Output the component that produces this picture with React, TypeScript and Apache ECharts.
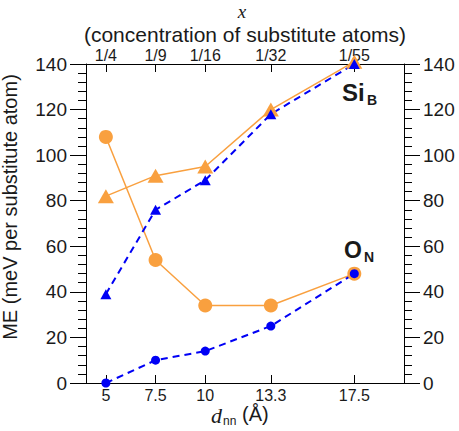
import React, { useEffect, useRef } from "react";
import * as echarts from "echarts";

// d_nn (Å) positions and matching concentrations
const dnn = [5, 7.5, 10, 13.3, 17.5];
const concLabels = ["1/4", "1/9", "1/16", "1/32", "1/55"];

// ME values (meV per substitute atom)
const oOrange = [108, 54, 34, 34, 48];
const siOrange = [82, 91, 95, 120, 141];
const siBlue = [39, 76, 89, 118, 140];
const oBlue = [0, 10, 14, 25, 48];

const ORANGE = "#F9A03F";
const BLUE = "#0000F5";
const FONT = "Liberation Sans";

const pts = (vals: number[]) => dnn.map((x, i) => [x, vals[i]]);

export default function App() {
  const ref = useRef<HTMLDivElement>(null);
  useEffect(() => {
    if (!ref.current) return;
    const chart = echarts.init(ref.current, null, { renderer: "svg" });
    const yAxisCommon = {
      type: "value",
      min: 0,
      max: 140,
      interval: 20,
      axisLine: { show: true, lineStyle: { color: "#000", width: 1 } },
      axisTick: { show: true, inside: false, length: 16, lineStyle: { color: "#000" } },
      minorTick: { show: true, splitNumber: 5, length: 8, lineStyle: { color: "#000" } },
      splitLine: { show: false },
      minorSplitLine: { show: false },
      axisLabel: { fontSize: 19, color: "#1a1a1a", fontFamily: FONT, margin: 19 },
    };
    const xAxisCommon = {
      type: "value",
      min: 4,
      max: 20,
      axisLine: { show: true, onZero: false, lineStyle: { color: "#000", width: 1 } },
      axisTick: { show: true, inside: true, length: 8, customValues: dnn, lineStyle: { color: "#000" } },
      splitLine: { show: false },
    };
    chart.setOption({
      animation: false,
      grid: { left: 86, right: 55, top: 64, bottom: 48, containLabel: false },
      xAxis: [
        {
          ...xAxisCommon,
          position: "bottom",
          axisLabel: {
            customValues: dnn,
            fontSize: 16,
            color: "#1a1a1a",
            fontFamily: FONT,
            margin: 4,
            formatter: (v: number) => String(v),
          },
        },
        {
          ...xAxisCommon,
          position: "top",
          axisLabel: {
            customValues: dnn,
            fontSize: 16,
            color: "#1a1a1a",
            fontFamily: FONT,
            margin: 1,
            formatter: (v: number) => {
              const i = dnn.indexOf(v);
              return i >= 0 ? concLabels[i] : "";
            },
          },
        },
      ],
      yAxis: [
        { ...yAxisCommon, position: "left" },
        { ...yAxisCommon, position: "right" },
      ],
      series: [
        {
          type: "line",
          data: pts(oOrange),
          symbol: "circle",
          symbolSize: 14,
          clip: false,
          itemStyle: { color: ORANGE },
          lineStyle: { color: ORANGE, width: 1.5 },
        },
        {
          type: "line",
          data: pts(siOrange),
          symbol: "triangle",
          symbolSize: [16, 14],
          clip: false,
          itemStyle: { color: ORANGE },
          lineStyle: { color: ORANGE, width: 1.5 },
        },
        {
          type: "line",
          data: pts(siBlue),
          symbol: "triangle",
          symbolSize: [11, 10],
          clip: false,
          itemStyle: { color: BLUE },
          lineStyle: { color: BLUE, width: 2, type: [7, 5] },
        },
        {
          type: "line",
          data: pts(oBlue),
          symbol: "circle",
          symbolSize: 9,
          clip: false,
          itemStyle: { color: BLUE },
          lineStyle: { color: BLUE, width: 2, type: [7, 5] },
        },
      ],
      graphic: [
        {
          type: "text",
          x: 242,
          y: 11,
          style: {
            text: "x",
            font: "italic 19px 'Liberation Serif'",
            fill: "#1a1a1a",
            textAlign: "center",
            textVerticalAlign: "middle",
          },
        },
        {
          type: "text",
          x: 245,
          y: 34,
          style: {
            text: "(concentration of substitute atoms)",
            font: `21px '${FONT}'`,
            fill: "#1a1a1a",
            textAlign: "center",
            textVerticalAlign: "middle",
          },
        },
        {
          type: "text",
          x: 10,
          y: 207,
          rotation: Math.PI / 2,
          style: {
            text: "ME (meV per substitute atom)",
            font: `20px '${FONT}'`,
            fill: "#1a1a1a",
            textAlign: "center",
            textVerticalAlign: "middle",
          },
        },
        {
          type: "text",
          x: 211,
          y: 415,
          style: {
            text: "d",
            font: "italic 22px 'Liberation Serif'",
            fill: "#1a1a1a",
            textAlign: "left",
            textVerticalAlign: "middle",
          },
        },
        {
          type: "text",
          x: 223,
          y: 421,
          style: {
            text: "nn",
            font: `12px '${FONT}'`,
            fill: "#1a1a1a",
            textAlign: "left",
            textVerticalAlign: "middle",
          },
        },
        {
          type: "text",
          x: 242,
          y: 414,
          style: {
            text: "(Å)",
            font: `20px '${FONT}'`,
            fill: "#1a1a1a",
            textAlign: "left",
            textVerticalAlign: "middle",
          },
        },
        {
          type: "text",
          x: 342,
          y: 92,
          style: {
            text: "Si",
            font: `bold 24px '${FONT}'`,
            fill: "#1a1a1a",
            textAlign: "left",
            textVerticalAlign: "middle",
          },
        },
        {
          type: "text",
          x: 367,
          y: 100,
          style: {
            text: "B",
            font: `bold 14px '${FONT}'`,
            fill: "#1a1a1a",
            textAlign: "left",
            textVerticalAlign: "middle",
          },
        },
        {
          type: "text",
          x: 344,
          y: 250,
          style: {
            text: "O",
            font: `bold 23px '${FONT}'`,
            fill: "#1a1a1a",
            textAlign: "left",
            textVerticalAlign: "middle",
          },
        },
        {
          type: "text",
          x: 364,
          y: 257,
          style: {
            text: "N",
            font: `bold 14px '${FONT}'`,
            fill: "#1a1a1a",
            textAlign: "left",
            textVerticalAlign: "middle",
          },
        },
      ],
    });
    return () => chart.dispose();
  }, []);
  return (
    <div
      ref={ref}
      style={{ position: "fixed", left: 0, top: 0, width: 459, height: 431, background: "#fff" }}
    />
  );
}
